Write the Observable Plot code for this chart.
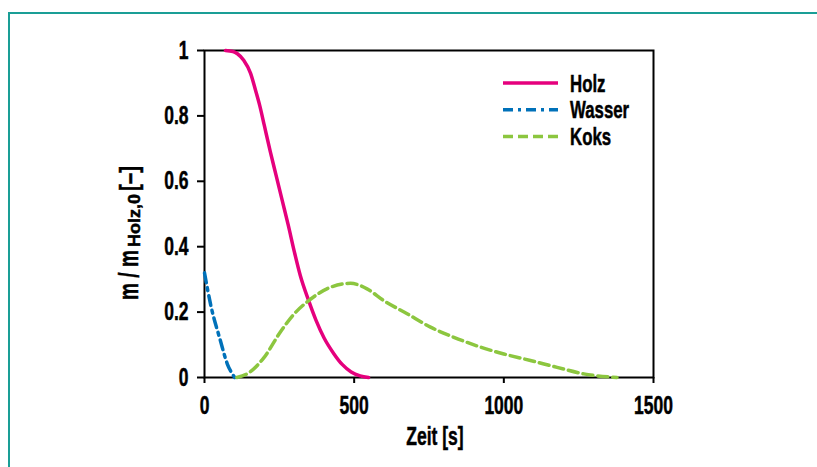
<!DOCTYPE html>
<html>
<head>
<meta charset="utf-8">
<script src="https://cdn.jsdelivr.net/npm/d3@7"></script>
<script src="https://cdn.jsdelivr.net/npm/@observablehq/plot@0.6"></script>
<style>
  body { margin: 0; background: #fff; }
  #wrap { position: relative; width: 817px; height: 467px; overflow: hidden; background: #fff; }
  #border { position: absolute; left: 8px; top: 12px; right: -10px; bottom: -10px;
            border-top: 2px solid #1a9e96; border-left: 2px solid #1a9e96; }
  #chart { position: absolute; left: 0; top: 0; }
  #chart svg text { font-family: "Liberation Sans", Arial, sans-serif; font-weight: bold; fill: #000;
                    stroke: #000; stroke-width: 0.5px; paint-order: stroke; }
</style>
</head>
<body>
<div id="wrap"><div id="border"></div><div id="chart"></div></div>
<script>
// ---- data ----
const seriesNames = ["Holz", "Wasser", "Koks"];
const seriesColors = ["#e5007d", "#0071b9", "#8cc63f"];
const seriesDash = [null, "10,5,3,5", "10,5"];

const holzT = [70, 95, 110, 131, 154, 170, 185, 200, 220, 240, 260, 280, 300, 320, 348, 373, 400, 432, 460, 490, 520, 548];
const holzM = [1.0, 0.997, 0.99, 0.97, 0.93, 0.88, 0.83, 0.77, 0.69, 0.615, 0.54, 0.465, 0.385, 0.312, 0.235, 0.174, 0.12, 0.073, 0.04, 0.017, 0.005, 0.0];

const wasserT = [0, 20, 53, 76, 98, 101];
const wasserM = [0.32, 0.225, 0.113, 0.042, 0.004, 0.0];

const koksT = [108, 142, 198, 254, 300, 348, 421, 488, 543, 599, 677, 755, 833, 922, 1000, 1089, 1178, 1267, 1378];
const koksM = [0.0, 0.011, 0.06, 0.14, 0.195, 0.235, 0.276, 0.288, 0.271, 0.235, 0.195, 0.154, 0.123, 0.093, 0.072, 0.052, 0.031, 0.011, 0.0];

const xTicks = [0, 500, 1000, 1500];
const yTicks = [0, 0.2, 0.4, 0.6, 0.8, 1];

const xLabel = "Zeit [s]";
const yLabelMain = "m / m";
const yLabelSub = "Holz,0";
const yLabelEnd = "[–]";

// ---- build ----
const toRows = (ts, ms) => ts.map((t, i) => ({t, m: ms[i]}));
const rows = [toRows(holzT, holzM), toRows(wasserT, wasserM), toRows(koksT, koksM)];

const plot = Plot.plot({
  width: 817,
  height: 467,
  marginLeft: 204,
  marginRight: 164,
  marginTop: 50,
  marginBottom: 90,
  style: { fontSize: "25px", fontWeight: "bold", background: "transparent", overflow: "visible" },
  x: { domain: [0, 1500] },
  y: { domain: [0, 1] },
  marks: [
    Plot.frame({ stroke: "#000", strokeWidth: 2 }),
    Plot.axisX({ ticks: xTicks, tickFormat: d => String(d), tickSize: 6, tickPadding: 13, strokeWidth: 2, label: null }),
    Plot.axisY({ ticks: yTicks, tickFormat: d => String(d), tickSize: 7, tickPadding: 9, strokeWidth: 2, label: null }),
    ...rows.map((r, i) => Plot.line(r, {
      x: "t", y: "m", stroke: seriesColors[i], strokeWidth: 3.5,
      strokeDasharray: seriesDash[i] ?? undefined, curve: "monotone-x"
    }))
  ]
});
document.getElementById("chart").appendChild(plot);

const svg = d3.select(plot);
const condense = 0.7;

// x axis label
svg.append("text")
  .attr("x", 435).attr("y", 445)
  .attr("text-anchor", "middle")
  .style("font-size", "25px")
  .text(xLabel);

// legend
const lg = svg.append("g");
seriesNames.forEach((name, i) => {
  const y = 83 + i * 26.7;
  lg.append("line")
    .attr("x1", 503).attr("x2", 558).attr("y1", y).attr("y2", y)
    .attr("stroke", seriesColors[i]).attr("stroke-width", 3.5)
    .attr("stroke-dasharray", seriesDash[i]);
  lg.append("text")
    .attr("x", 570).attr("y", y + 8.5)
    .attr("text-anchor", "start")
    .style("font-size", "24px")
    .text(name);
});

// condense tick labels, axis label and legend texts (narrow bold face)
svg.selectAll("text").each(function () {
  const w = this.getComputedTextLength();
  this.setAttribute("textLength", (w * condense).toFixed(1));
  this.setAttribute("lengthAdjust", "spacingAndGlyphs");
});

// y axis label (rotated, with subscript) – pieces laid out along the rotated baseline
const yl = svg.append("g").attr("transform", "translate(138,0) rotate(-90)");
const yParts = [
  { text: yLabelMain, size: 28, start: -300, len: 50, dy: 0 },
  { text: yLabelSub, size: 17, start: -247, len: 53, dy: 2 },
  { text: yLabelEnd, size: 26, start: -191, len: 25, dy: 0 }
];
yParts.forEach(p => {
  yl.append("text")
    .attr("x", p.start).attr("y", p.dy)
    .attr("text-anchor", "start")
    .attr("textLength", p.len)
    .attr("lengthAdjust", "spacingAndGlyphs")
    .style("font-size", p.size + "px")
    .text(p.text);
});
</script>
</body>
</html>
